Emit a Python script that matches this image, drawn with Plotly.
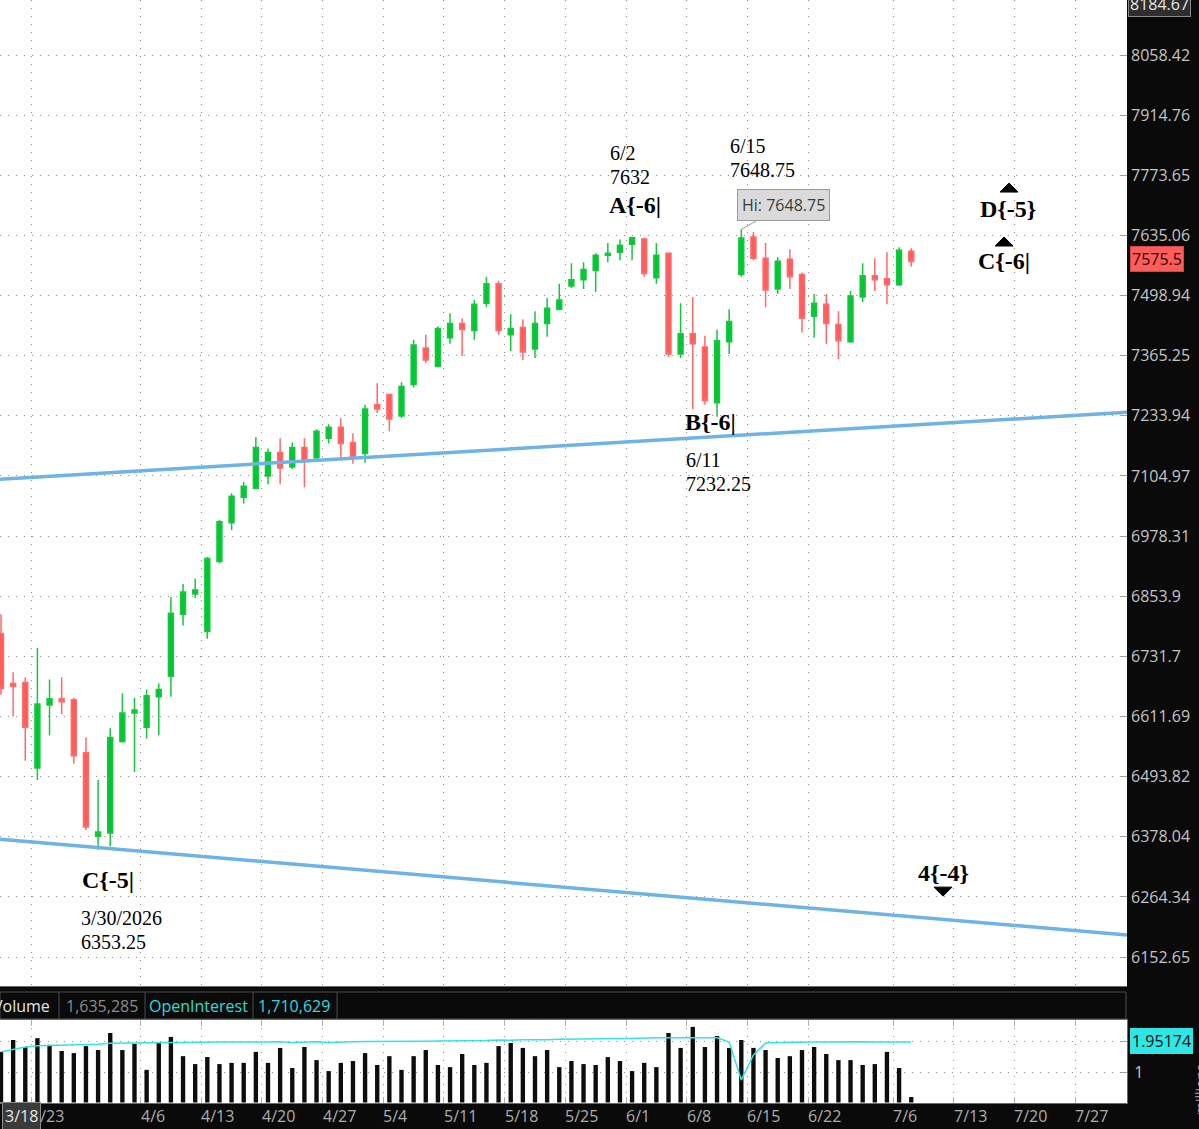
import math
import plotly.graph_objects as go

# ---------------- data ----------------
bar_index = list(range(76))

opens = [6777.8, 6677.4, 6679.5, 6510.7, 6634.8, 6647.0, 6645.0, 6540.6, 6379.3, 6385.2,
         6562.6, 6618.5, 6590.5, 6651.1, 6691.7, 6817.1, 6858.3, 6781.9, 6925.7, 7006.1,
         7059.7, 7079.0, 7104.7, 7154.9, 7124.3, 7165.8, 7143.9, 7185.4, 7209.5, 7176.7,
         7152.7, 7257.9, 7280.1, 7233.5, 7302.3, 7382.3, 7342.3, 7405.0, 7436.7, 7420.8,
         7481.9, 7525.3, 7411.8, 7427.7, 7380.1, 7436.7, 7468.4, 7520.7, 7534.6, 7555.3,
         7589.9, 7596.8, 7615.2, 7627.0, 7539.2, 7594.5, 7368.8, 7414.0, 7384.6, 7262.4,
         7395.9, 7546.1, 7631.4, 7583.0, 7513.8, 7580.7, 7546.1, 7452.5, 7479.7, 7434.4,
         7395.9, 7495.5, 7543.8, 7536.9, 7523.0, 7599.1]
highs = [6817.1, 6699.8, 6689.6, 6748.8, 6685.6, 6689.6, 6649.0, 6570.6, 6487.2, 6588.5,
         6657.2, 6649.0, 6665.3, 6677.4, 6852.2, 6879.3, 6889.8, 6935.0, 7012.5, 7068.3,
         7092.0, 7187.6, 7163.6, 7185.4, 7176.7, 7185.4, 7205.1, 7216.0, 7229.1, 7196.4,
         7257.9, 7304.6, 7282.3, 7306.8, 7400.4, 7411.8, 7429.9, 7459.3, 7448.0, 7488.8,
         7541.5, 7532.3, 7457.0, 7445.8, 7463.8, 7493.3, 7525.3, 7572.0, 7574.2, 7594.5,
         7617.5, 7626.0, 7632.0, 7630.0, 7617.5, 7596.0, 7481.9, 7495.5, 7409.5, 7423.1,
         7468.4, 7648.75, 7642.9, 7617.5, 7585.3, 7603.7, 7550.7, 7502.3, 7502.3, 7463.8,
         7509.3, 7571.5, 7583.0, 7596.8, 7608.3, 7606.0]
lows = [6655.1, 6612.4, 6524.7, 6487.2, 6574.6, 6616.5, 6518.9, 6391.1, 6353.25, 6360.1,
        6560.0, 6502.7, 6568.6, 6574.6, 6651.1, 6794.3, 6850.2, 6767.6, 6921.5, 6991.1,
        7046.8, 7077.0, 7087.6, 7087.6, 7120.0, 7081.2, 7139.6, 7174.5, 7143.9, 7130.8,
        7133.0, 7240.1, 7200.7, 7229.1, 7295.7, 7349.0, 7340.1, 7391.4, 7364.6, 7400.4,
        7472.9, 7411.8, 7375.6, 7355.7, 7360.1, 7407.3, 7466.0, 7516.1, 7513.8, 7507.0,
        7573.8, 7578.4, 7578.4, 7541.5, 7525.3, 7362.4, 7360.1, 7249.0, 7257.9, 7232.25,
        7369.0, 7541.5, 7578.4, 7472.9, 7502.4, 7513.8, 7416.3, 7405.0, 7391.4, 7357.9,
        7394.0, 7484.2, 7509.3, 7479.7, 7521.0, 7564.6]
closes = [6667.3, 6671.3, 6590.5, 6636.8, 6647.0, 6640.9, 6534.7, 6397.0, 6387.2, 6570.6,
          6618.5, 6624.6, 6653.1, 6665.3, 6819.1, 6862.5, 6866.7, 6932.0, 7008.2, 7061.8,
          7083.3, 7165.8, 7154.9, 7122.1, 7165.8, 7137.4, 7200.7, 7209.5, 7174.5, 7143.9,
          7249.0, 7249.0, 7227.0, 7297.9, 7389.1, 7355.7, 7425.4, 7436.7, 7423.1, 7479.7,
          7525.3, 7420.8, 7425.4, 7373.4, 7436.7, 7470.6, 7488.8, 7534.6, 7557.6, 7589.9,
          7594.5, 7612.9, 7630.0, 7548.4, 7589.9, 7368.8, 7414.0, 7391.4, 7266.8, 7398.2,
          7441.2, 7629.1, 7583.0, 7511.5, 7576.1, 7541.5, 7448.0, 7481.9, 7436.7, 7398.2,
          7497.8, 7543.8, 7534.6, 7523.0, 7601.4, 7575.5]

volume_m = [1.66, 2.05, 1.82, 2.11, 1.89, 1.69, 1.62, 1.85, 1.72, 2.28,
            1.72, 1.92, 1.07, 1.98, 2.15, 1.52, 1.26, 1.49, 1.26, 1.30,
            1.30, 1.66, 1.30, 1.79, 1.13, 1.82, 1.39, 1.03, 1.30, 1.36,
            1.62, 1.23, 1.52, 1.07, 1.52, 1.72, 1.23, 1.16, 1.59, 1.23,
            1.30, 1.85, 1.95, 1.79, 1.52, 1.72, 1.16, 1.36, 1.26, 1.23,
            1.49, 1.36, 1.03, 1.30, 1.16, 2.28, 1.79, 2.48, 1.82, 2.18,
            1.79, 2.05, 1.79, 1.72, 1.46, 1.52, 1.72, 1.82, 1.59, 1.39,
            1.39, 1.23, 1.26, 1.66, 1.13, 0.18]
open_interest_m = [1.66, 1.75, 1.82, 1.86, 1.87, 1.87, 1.88, 1.89, 1.91, 1.94,
                   1.95, 1.94, 1.95, 1.96, 1.97, 1.97, 1.98, 1.97, 1.98, 1.98,
                   1.99, 1.98, 1.98, 1.99, 1.97, 1.99, 1.99, 1.97, 1.97, 1.99,
                   2.00, 2.00, 1.99, 2.00, 2.01, 2.01, 2.02, 2.02, 2.03, 2.03,
                   2.03, 2.05, 2.04, 2.06, 2.05, 2.06, 2.07, 2.08, 2.08, 2.09,
                   2.10, 2.10, 2.10, 2.12, 2.12, 2.12, 2.12, 2.12, 2.12, 2.12,
                   1.98, 0.74, 1.56, 1.95, 1.97, 1.98, 1.98, 1.98, 1.98, 1.99,
                   1.99, 1.99, 1.98, 1.98, 1.98, 1.98]

week_labels = ['3/23', '4/6', '4/13', '4/20', '4/27', '5/4', '5/11', '5/18', '5/25',
               '6/1', '6/8', '6/15', '6/22', '7/6', '7/13', '7/20', '7/27']
week_after_bar = [2, 11, 16, 21, 26, 31, 36, 41, 46, 51, 56, 61, 66, 73, 78, 83, 88]

price_ticks = [6152.65, 6264.34, 6378.04, 6493.82, 6611.69, 6731.70, 6853.90, 6978.31,
               7104.97, 7233.94, 7365.25, 7498.94, 7635.06, 7773.65, 7914.76, 8058.42]
price_tick_text = ['6152.65', '6264.34', '6378.04', '6493.82', '6611.69', '6731.7', '6853.9',
                   '6978.31', '7104.97', '7233.94', '7365.25', '7498.94', '7635.06',
                   '7773.65', '7914.76', '8058.42']
price_top_label = '8184.67'

upper_trend_x = [-0.08, 92.78]
upper_trend_y = [7098.3, 7241.5]
lower_trend_x = [-0.08, 92.78]
lower_trend_y = [6373.6, 6193.4]

# ---------------- geometry helpers ----------------
W, H = 1199, 1129
R_MARGIN = 72
PLOT_W = W - R_MARGIN
PRICE_BOTTOM_PX = 987
VOL_TOP_PX, VOL_BOTTOM_PX = 1020, 1103
X_RANGE = [-0.0824, 92.78]
Y_RANGE = [6097.9, 8192.1]
bar_px = PLOT_W / (X_RANGE[1] - X_RANGE[0])
ln_per_px = math.log(Y_RANGE[1] / Y_RANGE[0]) / PRICE_BOTTOM_PX


def py(px_y):
    return (H - px_y) / H


def px(px_x):
    return px_x / PLOT_W


tickpos = [b + 0.5 for b in week_after_bar]

GRID = '#8f8f8f'
DOTS = '1px,7px'
SERIF = 'Liberation Serif'
SANS = 'Open Sans'

fig = go.Figure()

fig.add_trace(go.Scatter(x=upper_trend_x, y=upper_trend_y, mode='lines',
                         line=dict(color='#6db3e3', width=3.5), hoverinfo='skip',
                         xaxis='x', yaxis='y'))
fig.add_trace(go.Scatter(x=lower_trend_x, y=lower_trend_y, mode='lines',
                         line=dict(color='#6db3e3', width=3.5), hoverinfo='skip',
                         xaxis='x', yaxis='y'))

fig.add_trace(go.Candlestick(
    x=bar_index, open=opens, high=highs, low=lows, close=closes,
    increasing=dict(line=dict(color='#19c540', width=1.5), fillcolor='#00c832'),
    decreasing=dict(line=dict(color='#ff6a6a', width=1.5), fillcolor='#ff5c5c'),
    whiskerwidth=0, hoverinfo='skip', xaxis='x', yaxis='y'))


def triangle(xc, base, up, w_px=18, h_px=9):
    dx = w_px / 2 / bar_px
    apex = base * math.exp(h_px * ln_per_px) if up else base * math.exp(-h_px * ln_per_px)
    return [xc - dx, xc + dx, xc, xc - dx, None], [base, base, apex, base, None]


tx, ty = [], []
for xc, base, up in [(83.06, 7734.8, True), (82.65, 7610.9, True), (77.62, 6282.8, False)]:
    a, b = triangle(xc, base, up)
    tx += a
    ty += b
fig.add_trace(go.Scatter(x=tx, y=ty, mode='lines', fill='toself', fillcolor='#000000',
                         line=dict(color='#000000', width=1), hoverinfo='skip',
                         xaxis='x', yaxis='y'))

fig.add_trace(go.Bar(x=bar_index, y=volume_m, width=0.36,
                     marker=dict(color='#0d0d0d', line=dict(width=0)),
                     hoverinfo='skip', xaxis='x2', yaxis='y2'))
fig.add_trace(go.Scatter(x=bar_index, y=open_interest_m, mode='lines',
                         line=dict(color='#33e3e3', width=1.5), hoverinfo='skip',
                         xaxis='x2', yaxis='y2'))

ann = []


def data_text(x, price, text, size=20, bold=False, anchor='left'):
    t = '<b>%s</b>' % text if bold else text
    ann.append(dict(x=x, y=math.log10(price), xref='x', yref='y', text=t, showarrow=False,
                    xanchor=anchor, yanchor='middle',
                    font=dict(family=SERIF, size=size, color='#000000')))


data_text(8.82, 6295.9, 'C{-5|', 24, True, 'center')
data_text(6.45, 6224.8, '3/30/2026')
data_text(6.45, 6180.2, '6353.25')
data_text(50.05, 7825.6, '6/2')
data_text(50.05, 7769.6, '7632')
data_text(52.24, 7704.8, 'A{-6|', 24, True, 'center')
data_text(59.90, 7842.0, '6/15')
data_text(59.90, 7785.9, '7648.75')
data_text(58.50, 7220.4, 'B{-6|', 24, True, 'center')
data_text(56.25, 7138.9, '6/11')
data_text(56.25, 7087.8, '7232.25')
data_text(82.98, 7695.6, 'D{-5}', 24, True, 'center')
data_text(82.65, 7576.8, 'C{-6|', 24, True, 'center')
data_text(77.62, 6309.1, '4{-4}', 24, True, 'center')

# Hi callout
hi_idx = highs.index(max(highs))
ann.append(dict(x=hi_idx, y=math.log10(highs[hi_idx]), xref='x', yref='y',
                text='Hi: %s' % f'{highs[hi_idx]:.2f}', showarrow=True, arrowhead=0,
                arrowwidth=1, arrowcolor='#9a9a9a', ax=42, ay=-24, standoff=0,
                bgcolor='#dadada', bordercolor='#9a9a9a', borderwidth=1, borderpad=4,
                font=dict(family=SANS, size=16, color='#3a3a3a')))

# last price box
ann.append(dict(x=px(1130), y=math.log10(closes[-1]), xref='paper', yref='y', yshift=3,
                text=f'{closes[-1]:g}', showarrow=False, xanchor='left', yanchor='middle',
                bgcolor='#ff5c5c', bordercolor='#d04848', borderwidth=1, borderpad=1,
                font=dict(family=SANS, size=16, color='#2a0505')))
# top price box
ann.append(dict(x=px(1128), y=py(4), xref='paper', yref='paper', text=price_top_label,
                showarrow=False, xanchor='left', yanchor='middle',
                bgcolor='#2e2e2e', bordercolor='#8a8a8a', borderwidth=1, borderpad=1,
                font=dict(family=SANS, size=16, color='#e6e6e6')))

# volume header
header = [('Volume', 52, '#e4e4e4', 'right'), ('1,635,285', 102, '#8c8c8c', 'center'),
          ('OpenInterest', 198, '#2fdada', 'center'), ('1,710,629', 294, '#2fdada', 'center')]
for text, xx, col, anc in header:
    ann.append(dict(x=px(xx), y=py(1005.5), xref='paper', yref='paper', text=text,
                    showarrow=False, xanchor=anc, yanchor='middle',
                    font=dict(family=SANS, size=16, color=col)))

# OI last value label
ann.append(dict(x=px(1130), y=py(1040.5), xref='paper', yref='paper', text='1.95174',
                showarrow=False, xanchor='left', yanchor='middle', bgcolor='#2ee6e6',
                bordercolor='#2ee6e6', borderpad=1,
                font=dict(family=SANS, size=16, color='#0a0a0a')))
ann.append(dict(x=px(1200), y=py(1090), xref='paper', yref='paper', text='millions',
                textangle=-90, showarrow=False, xanchor='center', yanchor='middle',
                font=dict(family=SANS, size=14, color='#b0b0b0')))

# week labels
for lab, pos in zip(week_labels, tickpos):
    ann.append(dict(x=pos, y=py(1115.5), xref='x2', yref='paper', text=lab,
                    showarrow=False, xanchor='left', yanchor='middle', xshift=-2,
                    font=dict(family=SANS, size=16, color='#adadad')))
ann.append(dict(x=px(21), y=py(1115.5), xref='paper', yref='paper', text='3/18',
                showarrow=False, xanchor='center', yanchor='middle', bgcolor='#3a3a3a',
                bordercolor='#8c8c8c', borderwidth=1, borderpad=2,
                font=dict(family=SANS, size=16, color='#e8e8e8')))

shapes = [
    dict(type='rect', xref='paper', yref='paper', x0=px(0), x1=px(1126), y0=py(1019),
         y1=py(992), line=dict(color='#4c4c4c', width=1), fillcolor='#0a0a0a', layer='below'),
    dict(type='line', xref='paper', yref='paper', x0=0, x1=px(1127), y0=py(986.5),
         y1=py(986.5), line=dict(color='#6a6a6a', width=1)),
]
for xx in [59, 145, 253, 337]:
    shapes.append(dict(type='line', xref='paper', yref='paper', x0=px(xx), x1=px(xx),
                       y0=py(1019), y1=py(992), line=dict(color='#4c4c4c', width=1)))

fig.update_layout(
    width=W, height=H, margin=dict(l=0, r=R_MARGIN, t=0, b=0),
    paper_bgcolor='#0a0a0a', plot_bgcolor='#ffffff', showlegend=False,
    boxgap=0.42, hovermode=False,
    xaxis=dict(domain=[0, 1], anchor='y', range=X_RANGE, tickvals=tickpos,
               showticklabels=False, ticks='', showgrid=True, gridcolor=GRID,
               griddash=DOTS, gridwidth=1, zeroline=False,
               rangeslider=dict(visible=False), showline=False),
    yaxis=dict(domain=[py(PRICE_BOTTOM_PX), 1], anchor='x', type='log',
               range=[math.log10(Y_RANGE[0]), math.log10(Y_RANGE[1])], side='right',
               tickvals=price_ticks, ticktext=price_tick_text,
               tickfont=dict(family=SANS, size=16, color='#c4c4c4'), ticklabelstandoff=3,
               ticks='inside', ticklen=7, tickcolor='#a0a0a0', showgrid=True,
               gridcolor=GRID, griddash=DOTS, gridwidth=1, zeroline=False, showline=False),
    xaxis2=dict(domain=[0, 1], anchor='y2', matches='x', range=X_RANGE, tickvals=tickpos,
                showticklabels=False, ticks='inside', ticklen=6, tickcolor='#b0b0b0',
                mirror='ticks', showline=True, linecolor='#6a6a6a', showgrid=True,
                gridcolor=GRID, griddash=DOTS, gridwidth=1, zeroline=False),
    yaxis2=dict(domain=[py(VOL_BOTTOM_PX), py(VOL_TOP_PX)], anchor='x2',
                range=[-0.016, 2.705], side='right', tickvals=[1, 2], ticktext=['1', ''],
                tickfont=dict(family=SANS, size=16, color='#c4c4c4'), ticklabelstandoff=3,
                ticks='inside', ticklen=6, tickcolor='#a0a0a0', showgrid=True,
                gridcolor=GRID, griddash=DOTS, gridwidth=1, zeroline=False,
                showline=True, linecolor='#6a6a6a'),
    annotations=ann, shapes=shapes,
)

fig.write_html('out.html')
